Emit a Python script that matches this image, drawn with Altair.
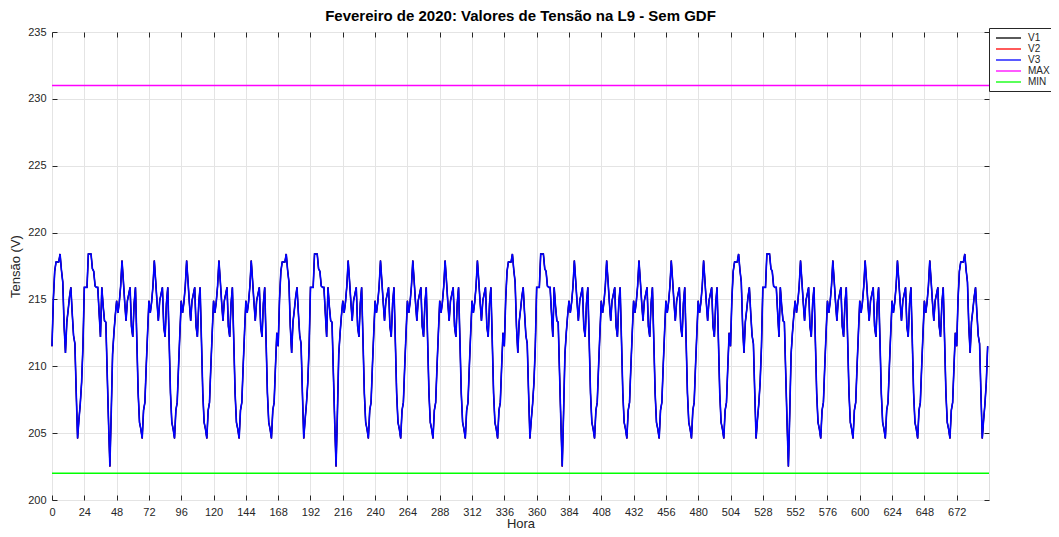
import altair as alt
import pandas as pd

# ---- perfis horários (V) ----
SABADO = [211.5, 215.0, 217.1, 217.8, 217.8, 217.8, 218.4, 217.2, 216.3, 213.0, 211.0, 213.3,
          214.2, 215.2, 215.9, 214.0, 212.3, 211.7, 208.0, 204.6, 206.0, 207.2, 208.8, 211.5]
DOMINGO = [215.9, 215.9, 215.9, 218.4, 218.4, 218.4, 217.3, 217.1, 216.0, 215.9, 215.9, 214.0,
           212.2, 215.9, 214.5, 213.4, 213.3, 209.5, 205.8, 202.5, 206.5, 210.9, 212.5, 213.8]
UTIL = [214.9, 214.0, 214.8, 216.0, 217.9, 216.4, 214.8, 213.4, 214.9, 215.4, 215.9, 213.0,
        212.2, 214.7, 215.9, 212.0, 208.0, 205.8, 205.3, 204.6, 206.7, 207.3, 210.0, 212.5]

# sequência dos dias de fevereiro de 2020 (1/2 foi sábado)
TIPO_DIA = ["SAB", "DOM", "UTIL", "UTIL", "UTIL", "UTIL", "UTIL",
            "SAB", "DOM", "UTIL", "UTIL", "UTIL", "UTIL", "UTIL",
            "SAB", "DOM", "UTIL", "UTIL", "UTIL", "UTIL", "UTIL",
            "SAB", "DOM", "UTIL", "UTIL", "UTIL", "UTIL", "UTIL",
            "SAB"]

SERIES = ["V1", "V2", "V3", "MAX", "MIN"]
CORES = ["#000000", "#ff0000", "#0000ff", "#ff00ff", "#00ff00"]
V_MAX = 231
V_MIN = 202
X_TICKS = [0, 24, 48, 72, 96, 120, 144, 168, 192, 216, 240, 264, 288, 312, 336,
           360, 384, 408, 432, 456, 480, 504, 528, 552, 576, 600, 624, 648, 672]
Y_TICKS = [200, 205, 210, 215, 220, 225, 230, 235]
HORA_FIM = 696

perfis = {"SAB": SABADO, "DOM": DOMINGO, "UTIL": UTIL}
tensao = []
for t in TIPO_DIA:
    tensao.extend(perfis[t])
horas = list(range(len(tensao)))

def serie_df(nome):
    return pd.DataFrame({"hora": horas, "tensao": tensao, "serie": nome})

def limite_df(nome, valor):
    return pd.DataFrame({"hora": [0, HORA_FIM], "tensao": [valor, valor], "serie": nome})

FONT = "Liberation Sans"
TXT = "#262626"

xscale = alt.Scale(domain=[0, HORA_FIM], nice=False, zero=False)
yscale = alt.Scale(domain=[200, 235], nice=False, zero=False)
color = alt.Color("serie:N", scale=alt.Scale(domain=SERIES, range=CORES),
                  legend=alt.Legend(title=None, orient="none", legendX=937, legendY=-4,
                                    strokeColor="#262626", fillColor="white", padding=4,
                                    symbolType="M-0.6,0H4.4", symbolSize=100, symbolStrokeWidth=1.3,
                                    symbolFillColor="transparent",
                                    labelFontSize=10, labelFont=FONT, labelColor=TXT,
                                    rowPadding=0, symbolOffset=0, labelOffset=23))

ax_main_x = alt.Axis(values=X_TICKS, title="Hora", grid=True, gridColor="#e4e4e4", domain=False,
                     ticks=False, labelPadding=6, labelFontSize=11, labelFont=FONT, labelColor=TXT,
                     titleFont=FONT, titleFontSize=13, titleFontWeight="normal", titleColor=TXT,
                     titlePadding=0, labelFlush=False)
ax_main_y = alt.Axis(values=Y_TICKS, title="Tensão (V)", grid=True, gridColor="#e4e4e4", domain=False,
                     ticks=False, labelPadding=6, labelFontSize=11, labelFont=FONT, labelColor=TXT,
                     titleFont=FONT, titleFontSize=13, titleFontWeight="normal", titleColor=TXT,
                     titlePadding=5)

def tick_axis(orient, vals):
    return alt.Axis(orient=orient, values=vals, title=None, labels=False, grid=False, domain=False,
                    ticks=True, tickSize=5, tickColor=TXT, offset=-5)

# ordem de desenho: V2, V1 e V3 por cima, depois MAX e MIN
ordem = [
    (serie_df("V2"), ax_main_x, ax_main_y, 1.0),
    (serie_df("V1"), tick_axis("bottom", X_TICKS), tick_axis("left", Y_TICKS), 1.3),
    (serie_df("V3"), tick_axis("top", X_TICKS), tick_axis("right", Y_TICKS), 1.6),
    (limite_df("MAX", V_MAX), None, None, 1.4),
    (limite_df("MIN", V_MIN), None, None, 1.4),
]
layers = []
for dados, axx, axy, sw in ordem:
    layers.append(
        alt.Chart(dados).mark_line(strokeWidth=sw).encode(
            x=alt.X("hora:Q", scale=xscale, axis=axx),
            y=alt.Y("tensao:Q", scale=yscale, axis=axy),
            color=color,
        )
    )

chart = alt.layer(*layers).resolve_axis(x="independent", y="independent").properties(
    width=937, height=468,
    title=alt.TitleParams("Fevereiro de 2020: Valores de Tensão na L9 - Sem GDF",
                          font=FONT, fontSize=15, fontWeight="bold", color="#000000",
                          anchor="middle", offset=2),
    autosize=alt.AutoSizeParams(type="none"),
    padding={"left": 44, "top": 24, "right": 62, "bottom": 29},
).configure_view(stroke="#262626", strokeWidth=1).configure(background="white")

chart.save("out.html", embed_options={"renderer": "svg", "actions": False})
